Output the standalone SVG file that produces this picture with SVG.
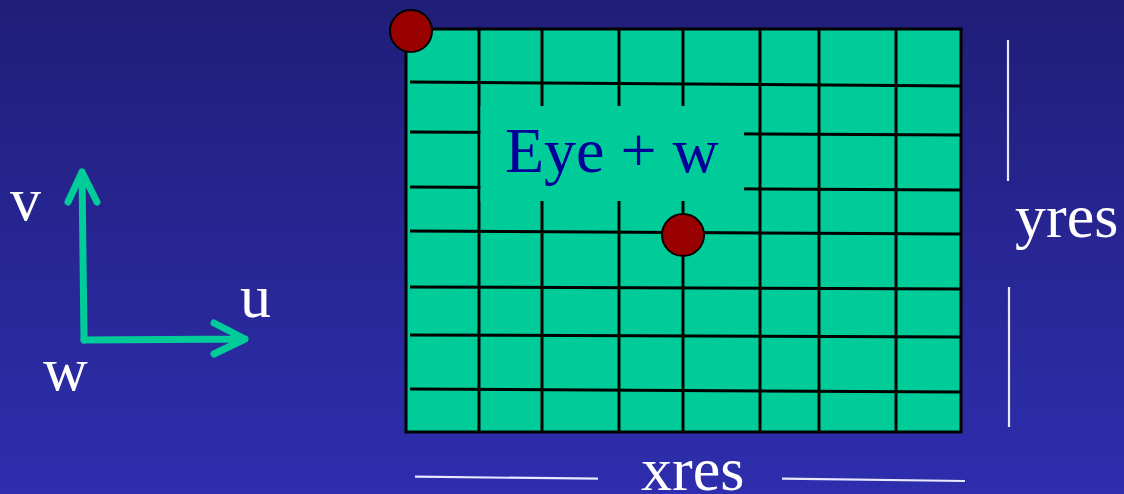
<svg xmlns="http://www.w3.org/2000/svg" width="1124" height="494" viewBox="0 0 1124 494">
<defs>
<linearGradient id="bg" x1="0" y1="0" x2="0" y2="1">
<stop offset="0" stop-color="#201e78"/>
<stop offset="1" stop-color="#2e2eae"/>
</linearGradient>
</defs>
<style>
.lbl{font-family:"Liberation Serif","Times New Roman",serif;fill:#ffffff;font-size:62px}
.grid{stroke:#000;stroke-width:3;fill:none}
.dot{fill:#990000;stroke:#000;stroke-width:2}
.axis{stroke:#00cc99;stroke-width:7;fill:none;stroke-linecap:round;stroke-linejoin:round}
.dim{stroke:#e8e8ff;stroke-width:2.2}
</style>
<rect width="1124" height="494" fill="url(#bg)"/>
<g id="image-plane">
<rect x="406" y="29" width="555" height="403" fill="#00cc99" stroke="#000" stroke-width="3"/>
<g class="grid">
<line x1="479" y1="29" x2="479" y2="432"/>
<line x1="542" y1="29" x2="542" y2="432"/>
<line x1="619" y1="29" x2="619" y2="432"/>
<line x1="683" y1="29" x2="683" y2="432"/>
<line x1="760" y1="29" x2="760" y2="432"/>
<line x1="819" y1="29" x2="819" y2="432"/>
<line x1="896" y1="29" x2="896" y2="432"/>
<line x1="410" y1="82" x2="961" y2="86"/>
<line x1="410" y1="132" x2="961" y2="135"/>
<line x1="410" y1="187" x2="961" y2="190"/>
<line x1="410" y1="231" x2="961" y2="234"/>
<line x1="410" y1="287" x2="961" y2="289"/>
<line x1="410" y1="335" x2="961" y2="337"/>
<line x1="410" y1="389" x2="961" y2="392"/>
</g>
<rect x="480.5" y="106" width="263.5" height="95" fill="#00cc99"/>
<text x="505" y="172" font-family="'Liberation Serif','Times New Roman',serif" font-size="64" fill="#000099">Eye + w</text>
</g>
<g id="corner-pixel"><circle class="dot" cx="411" cy="31" r="21"/></g>
<g id="center-pixel"><circle class="dot" cx="683" cy="235" r="21"/></g>
<g id="axes">
<text class="lbl" x="10" y="220">v</text>
<text class="lbl" x="240" y="317">u</text>
<text class="lbl" x="43" y="390">w</text>
</g>
<g id="dimensions">
<line class="dim" x1="1008" y1="40" x2="1008" y2="181"/>
<line class="dim" x1="1009" y1="287" x2="1009" y2="427"/>
<line class="dim" x1="415" y1="476.7" x2="598" y2="478.7"/>
<line class="dim" x1="782" y1="478.7" x2="965" y2="481"/>
<text class="lbl" x="1015" y="237">yres</text>
<text class="lbl" x="641" y="490">xres</text>
</g>
<g id="connectors">
<path class="axis" d="M84 340 L82 172 M68 202 L82 172 L97 202"/>
<path class="axis" d="M84 340 L245 339 M214 323 L245 339 L214 354"/>
</g>
</svg>
